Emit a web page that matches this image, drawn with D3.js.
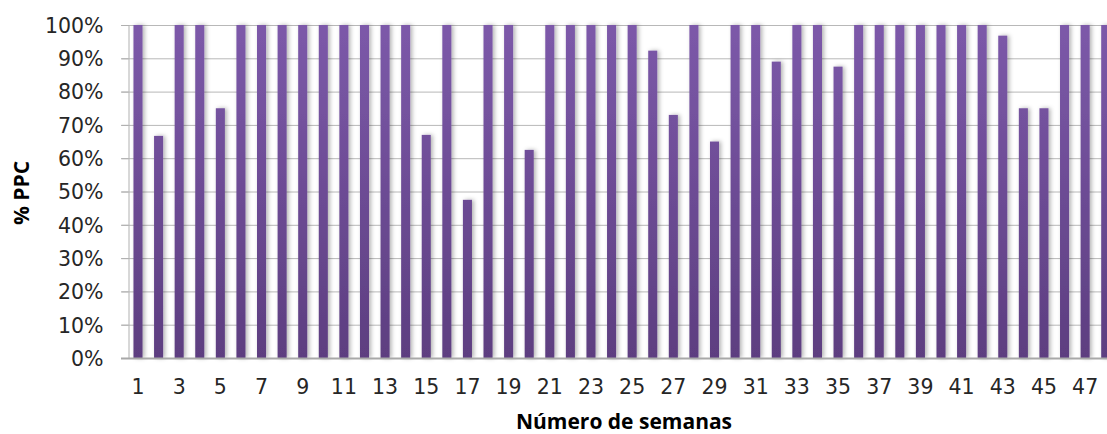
<!DOCTYPE html>
<meta charset="utf-8">
<head>
  <title>% PPC por semana</title>
</head>
<style>
body { margin: 0; background: #fff; }
.grid line { stroke: #b8b8b8; stroke-width: 1px; }
.tick text { font-family: "DejaVu Sans", sans-serif; font-size: 20.5px; fill: #262626; }
.title { font-family: "Open Sans", sans-serif; font-weight: bold; font-size: 21px; fill: #000; }
</style>
<body>
  <svg width="1107" height="434"></svg>
  <script src="https://cdnjs.cloudflare.com/ajax/libs/d3/7.8.5/d3.min.js"></script>
  <script>
// weeks 1..48 and weekly % PPC
var weeks = d3.range(1, 49);
var ppc = [100, 66.7, 100, 100, 75, 100, 100, 100, 100, 100,
           100, 100, 100, 100, 67, 100, 47.5, 100, 100, 62.5,
           100, 100, 100, 100, 100, 92.3, 73, 100, 65, 100,
           100, 89, 100, 100, 87.5, 100, 100, 100, 100, 100,
           100, 100, 96.8, 75, 75, 100, 100, 100];
var yTicks = [0, 10, 20, 30, 40, 50, 60, 70, 80, 90, 100];
var xLabels = weeks.filter(function(d) { return d % 2 == 1; });

var svg = d3.select('svg');
var plotLeft = 128, plotTop = 25, plotBottom = 358;
var step = 20.59;

var x = d3.scaleBand()
  .domain(weeks)
  .range([plotLeft - 0.3, plotLeft - 0.3 + step * weeks.length])
  .paddingInner(0.56)
  .paddingOuter(0.28);
var y = d3.scaleLinear().domain([0, 100]).range([plotBottom, plotTop]);

var defs = svg.append('defs');
var grad = defs.append('linearGradient')
  .attr('id', 'barGrad')
  .attr('gradientUnits', 'userSpaceOnUse')
  .attr('x1', 0).attr('x2', 0)
  .attr('y1', plotTop).attr('y2', plotBottom);
grad.append('stop').attr('offset', '0%').attr('stop-color', '#7c59a9');
grad.append('stop').attr('offset', '100%').attr('stop-color', '#5d3e80');

var shadow = defs.append('filter').attr('id', 'shadow')
  .attr('x', '-100%').attr('y', '-10%').attr('width', '300%').attr('height', '120%');
shadow.append('feDropShadow')
  .attr('dx', 2).attr('dy', 0).attr('stdDeviation', 2)
  .attr('flood-color', '#000').attr('flood-opacity', 0.3);

// grid lines
svg.append('g').attr('class', 'grid')
  .selectAll('line')
  .data(yTicks.filter(function(d) { return d > 0; }))
  .enter().append('line')
  .attr('x1', plotLeft - 7).attr('x2', 1107)
  .attr('y1', function(d) { return y(d) + 0.5; })
  .attr('y2', function(d) { return y(d) + 0.5; });

// bars
svg.append('g')
  .selectAll('rect')
  .data(ppc)
  .enter().append('rect')
  .attr('x', function(d, i) { return x(weeks[i]); })
  .attr('y', function(d) { return y(d); })
  .attr('width', x.bandwidth())
  .attr('height', function(d) { return plotBottom - y(d); })
  .attr('fill', 'url(#barGrad)')
  .attr('filter', 'url(#shadow)');

// axes
var yAxis = svg.append('g')
  .attr('transform', 'translate(' + (plotLeft + 0.5) + ',0)')
  .call(d3.axisLeft(y).tickValues(yTicks).tickSize(7).tickPadding(18)
    .tickFormat(function(d) { return d + '%'; }));
yAxis.select('.domain').attr('stroke', '#b0b0b0');
yAxis.selectAll('.tick line').attr('stroke', '#b0b0b0');
yAxis.selectAll('.tick text').attr('dy', '0.36em');

var xAxis = svg.append('g')
  .attr('transform', 'translate(0,' + (plotBottom + 0.5) + ')')
  .call(d3.axisBottom(x).tickValues(xLabels).tickSize(0).tickPadding(21));
xAxis.select('.domain').remove();
xAxis.selectAll('.tick text').attr('dy', '0.71em');

svg.append('line')
  .attr('x1', plotLeft - 7).attr('x2', 1107)
  .attr('y1', plotBottom + 0.5).attr('y2', plotBottom + 0.5)
  .attr('stroke', '#a8a8a8').attr('stroke-width', 2);

// titles
svg.append('text').attr('class', 'title')
  .attr('x', 624).attr('y', 429)
  .attr('text-anchor', 'middle')
  .text('Número de semanas');
svg.append('text').attr('class', 'title')
  .attr('transform', 'translate(29,193) rotate(-90)')
  .attr('text-anchor', 'middle')
  .text('% PPC');
  </script>
</body>
